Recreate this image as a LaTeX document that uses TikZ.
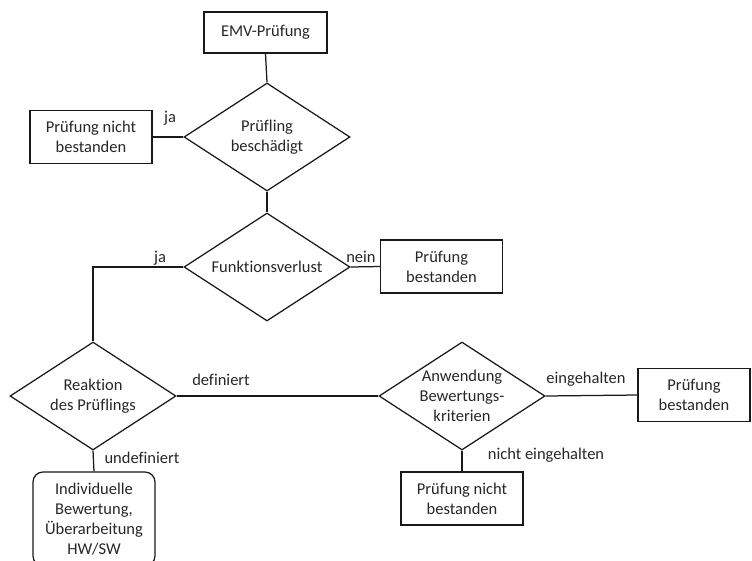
\documentclass[tikz,border=0pt]{standalone}
\usepackage{fontspec}
\setmainfont[Ligatures=NoCommon]{Carlito}
\usetikzlibrary{shapes.geometric}
\begin{document}
\begin{tikzpicture}[x=1pt,y=-1pt,
  every node/.style={font=\fontsize{16.5}{20}\selectfont, text=black!85},
  box/.style={draw=black!90, line width=1.25pt, rectangle, minimum width=122pt,
    minimum height=53pt, inner sep=0pt, align=center},
  rbox/.style={box, rounded corners=10pt},
  dia/.style={draw=black!90, line width=1.25pt, diamond, minimum width=166pt,
    minimum height=108pt, inner sep=0pt},
  dtext/.style={label={[align=center, font=\fontsize{16.5}{20}\selectfont, text=black!85]center:#1}},
  lbl/.style={anchor=base, inner sep=0pt},
  conn/.style={draw=black!90, line width=1.25pt}]
\useasboundingbox (0,0) rectangle (752,560);

% process boxes
\node[box, minimum width=123pt, minimum height=41pt] (start) at (265.5,32.5) {EMV-Prüfung};
\node[box] (fail1) at (91,137) {Prüfung nicht\\bestanden};
\node[box] (pass1) at (441.5,266.5) {Prüfung\\bestanden};
\node[box, minimum width=112pt] (pass2) at (694,395) {Prüfung\\bestanden};
\node[box] (fail2) at (462,498.5) {Prüfung nicht\\bestanden};
\node[rbox, minimum height=94pt] (indiv) at (94,519) {Individuelle\\Bewertung,\\Überarbeitung\\HW/SW};

% decisions
\node[dia, dtext={Prüfling\\beschädigt}] (dmg) at (267,137) {};
\node[dia, dtext={Funktionsverlust}] (func) at (267,267) {};
\node[dia, dtext={Reaktion\\des Prüflings}] (react) at (93,396) {};
\node[dia, dtext={Anwendung\\Bewertungs-\\kriterien}] (crit) at (462,396) {};

% connectors
\draw[conn] (start.south) -- (dmg.north);
\draw[conn] (dmg.west) -- (fail1.east);
\draw[conn] (dmg.south) -- (func.north);
\draw[conn] (func.east) -- (pass1.west);
\draw[conn] (func.west) -| (react.north);
\draw[conn] (react.east) -- (crit.west);
\draw[conn] (react.south) -- (indiv.north);
\draw[conn] (crit.east) -- (pass2.west);
\draw[conn] (crit.south) -- (fail2.north);

% branch labels
\node[lbl] (l1) at (170,122.5) {ja};
\node[lbl] (l2) at (160,262) {ja};
\node[lbl] (l3) at (361,262) {nein};
\node[lbl] (l4) at (221,385) {definiert};
\node[lbl] (l5) at (586,383) {eingehalten};
\node[lbl] (l6) at (546,459) {nicht eingehalten};
\node[lbl] (l7) at (142,463) {undefiniert};
\end{tikzpicture}
\end{document}
